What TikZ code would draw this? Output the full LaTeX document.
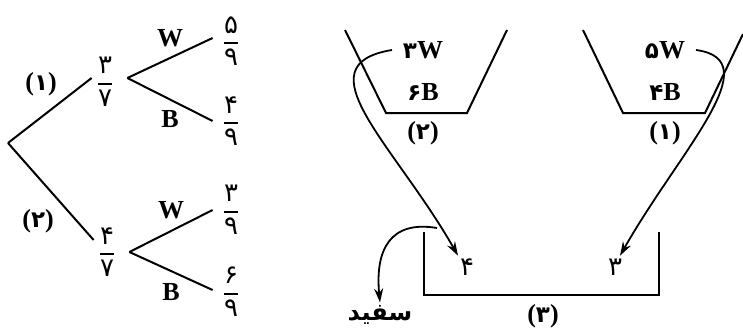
\documentclass[tikz,border=0pt]{standalone}
\usepackage{amsmath}
\usepackage{fontspec}
\setmainfont{Liberation Serif}
\newfontfamily\fa[Script=Arabic]{DejaVu Sans}
\TeXXeTstate=1
\usetikzlibrary{arrows.meta,positioning}

% persian digit inside latin text, and a fraction of two persian digits
\newcommand{\pd}[1]{{\fa\fontsize{11.5}{13}\selectfont#1}}
\newcommand{\pfrac}[2]{$\genfrac{}{}{0.8pt}{0}{\mbox{\fa #1}}{\mbox{\fa #2}}$}

\begin{document}
\begin{tikzpicture}[x=0.5pt, y=-0.5pt, line width=1pt,
  frac/.style={inner sep=1pt, font=\fontsize{13}{15}\selectfont},
  lbl/.style={inner sep=1pt, font=\fontsize{13}{15}\selectfont\bfseries},
  num/.style={inner sep=1pt, font=\fontsize{13}{15}\selectfont\fa},
  flow/.style={-{Stealth[length=7pt,width=4.5pt]}, line width=0.9pt}]
\useasboundingbox (0,0) rectangle (743,327);

% probability tree
\coordinate (root) at (8,143);
\node[frac] (f1)  at (105,82)  {\pfrac{۳}{۷}};
\node[frac] (f2)  at (107,252) {\pfrac{۴}{۷}};
\node[frac] (f11) at (231,41)  {\pfrac{۵}{۹}};
\node[frac] (f12) at (231,121) {\pfrac{۴}{۹}};
\node[frac] (f21) at (231,210) {\pfrac{۳}{۹}};
\node[frac] (f22) at (231,292) {\pfrac{۶}{۹}};

\draw (root) -- ([xshift=-0.5pt,yshift=2pt]f1.west)
  node[pos=0.62, above left=2pt and 0pt, lbl] {(\pd{۱})};
\draw (root) -- ([xshift=-0.5pt,yshift=6pt]f2.west)
  node[pos=0.57, below left=4pt and 0pt, lbl] {(\pd{۲})};

\draw ([xshift=5pt,yshift=2pt]f1.east) -- ([xshift=-3pt,yshift=1.5pt]f11.west)
  node[midway, above=4pt, lbl] {W};
\draw ([xshift=5pt,yshift=2pt]f1.east) -- ([xshift=-3pt]f12.west)
  node[midway, below=4pt, lbl] {B};
\draw ([xshift=5pt]f2.east) -- ([xshift=-3pt]f21.west)
  node[midway, above=4.5pt, lbl] {W};
\draw ([xshift=5pt]f2.east) -- ([xshift=-3pt,yshift=1pt]f22.west)
  node[midway, below=4.5pt, lbl] {B};

% the three urns
\draw (345,30) -- (386,113) -- (467,113) -- (507,30);
\draw (583,30) -- (623,113) -- (705,113) -- (743,34);
\draw (424,232) -- (424,295) -- (659,295) -- (659,232);

\node[lbl] (w2) at (423,50)  {\pd{۳}W};
\node[lbl] (b2) at (423,92)  {\pd{۶}B};
\node[lbl] (c2) at (423,133) {(\pd{۲})};
\node[lbl] (w1) at (665,50)  {\pd{۵}W};
\node[lbl] (b1) at (665,92)  {\pd{۴}B};
\node[lbl] (c1) at (665,133) {(\pd{۱})};
\node[lbl] (c3) at (543,316) {(\pd{۳})};

\node[num] (n4) at (467,267) {۴};
\node[num] (n3) at (615,267) {۳};
\node[num, font=\fontsize{12}{14}\selectfont\fa\bfseries] (sf) at (380,315) {\beginR سفید\endR};

% moving the balls
\draw[flow] ([xshift=-4pt]w2.west) .. controls (300,65) and (395,145) .. ([xshift=-4.5pt]n4.north);
\draw[flow] ([xshift=4pt]w1.east) .. controls (770,60) and (680,150) .. ([xshift=2.5pt]n3.north);
\coordinate (out) at (437,228);
\draw[flow] (out) .. controls (390,220) and (375,250) .. (sf.north);

\end{tikzpicture}
\end{document}
